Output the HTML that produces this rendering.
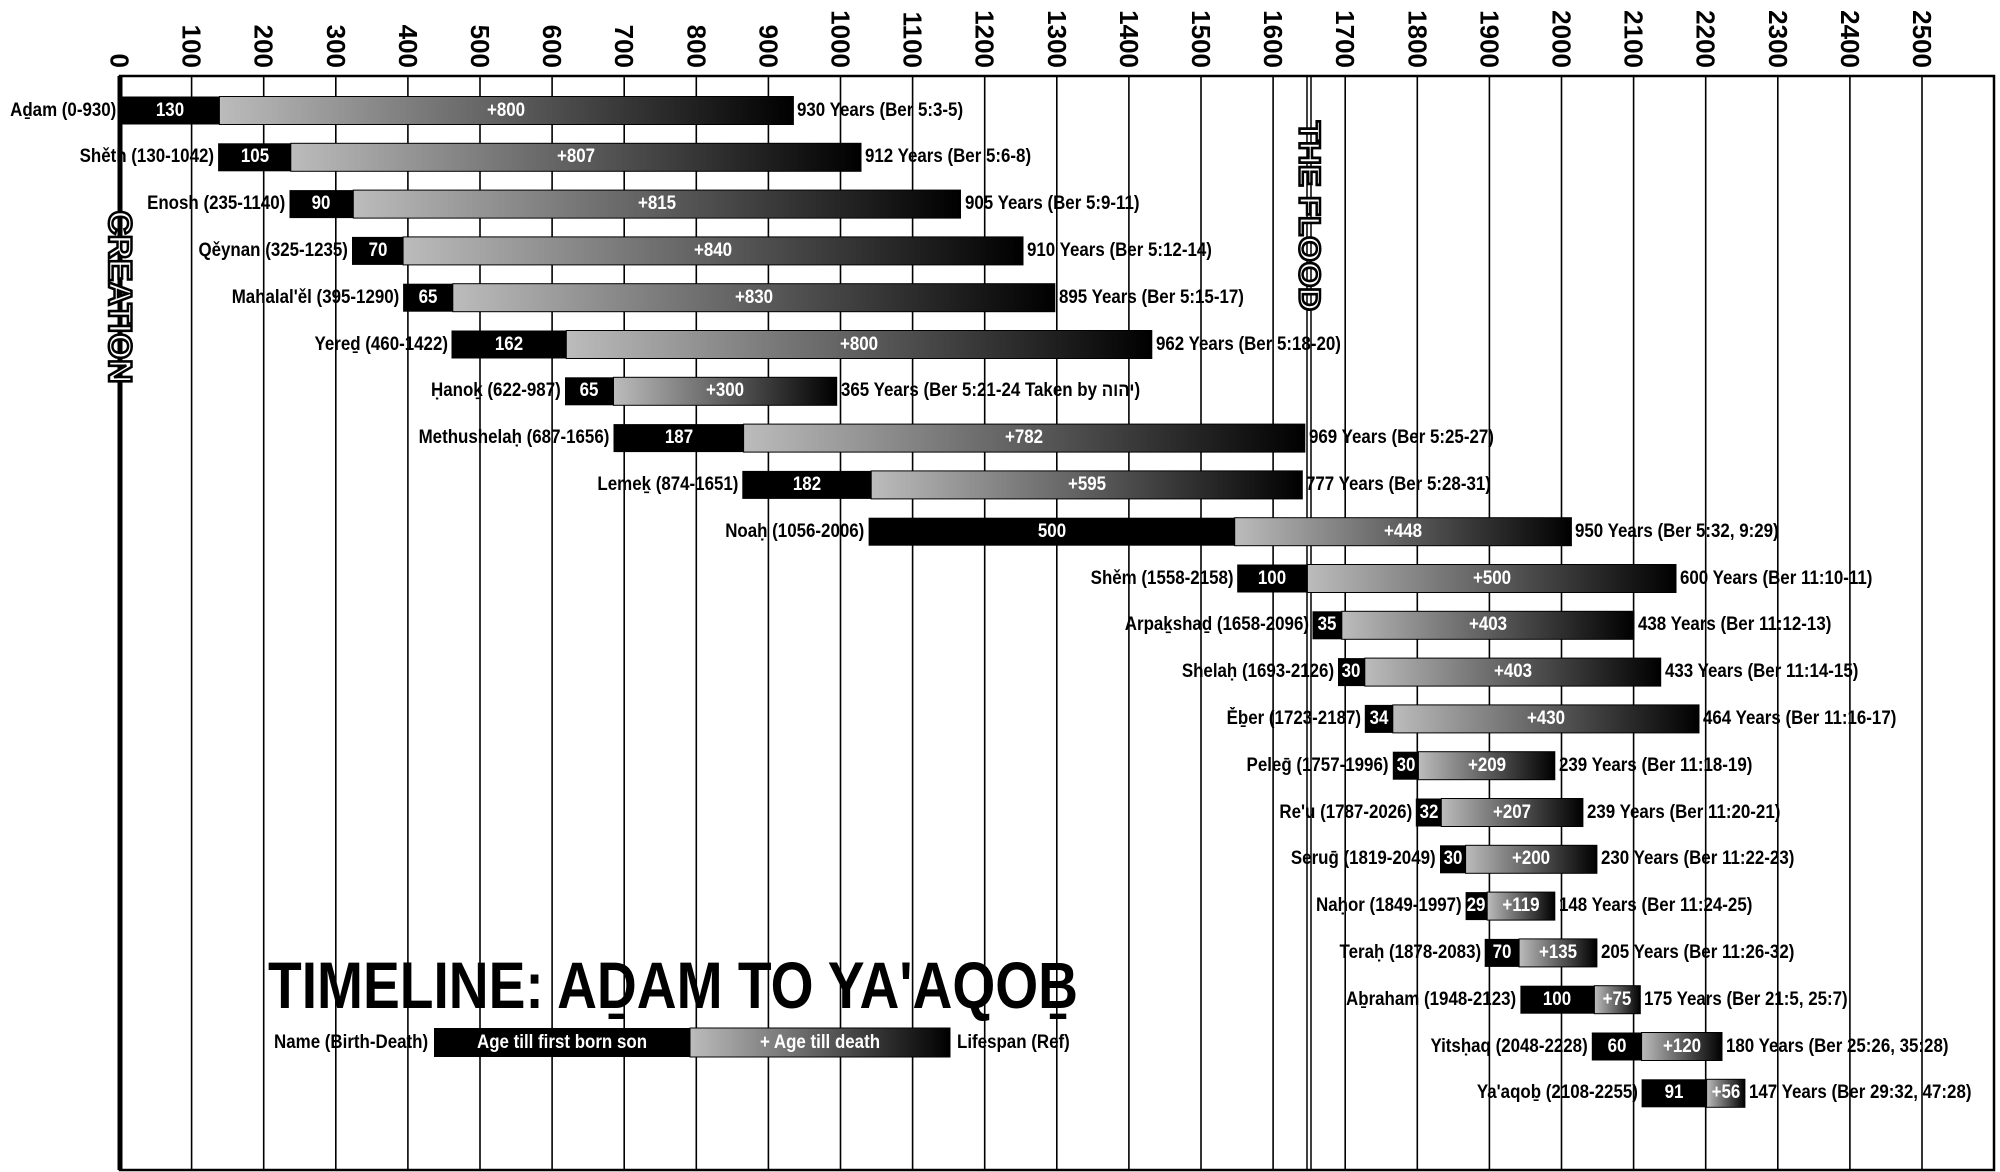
<!DOCTYPE html>
<html><head><meta charset="utf-8"><style>
html,body{margin:0;padding:0;background:#fff}
#c{position:relative;width:2000px;height:1172px;overflow:hidden;background:#fff;font-family:"Liberation Sans",sans-serif;font-weight:bold}
svg{position:absolute;left:0;top:0}
.l,.r,.m,.w{position:absolute;height:22px;line-height:22px;font-size:19px;white-space:nowrap;color:#000}
.l{transform:scaleX(.89);transform-origin:right center}
.r{transform:scaleX(.89);transform-origin:left center}
.m,.w{color:#fff;transform:translateX(-50%) scaleX(.89);transform-origin:center}
</style></head><body><div id="c">
<svg width="2000" height="1172" xmlns="http://www.w3.org/2000/svg">
<defs><linearGradient id="g" x1="0" x2="1" y1="0" y2="0"><stop offset="0" stop-color="#bcbcbc"/><stop offset="1" stop-color="#000"/></linearGradient></defs>
<g stroke="#000" stroke-width="1.6">
<line x1="191.6" y1="76" x2="191.6" y2="1170"/><line x1="263.7" y1="76" x2="263.7" y2="1170"/><line x1="335.8" y1="76" x2="335.8" y2="1170"/><line x1="407.9" y1="76" x2="407.9" y2="1170"/><line x1="480" y1="76" x2="480" y2="1170"/><line x1="552.1" y1="76" x2="552.1" y2="1170"/><line x1="624.2" y1="76" x2="624.2" y2="1170"/><line x1="696.3" y1="76" x2="696.3" y2="1170"/><line x1="768.4" y1="76" x2="768.4" y2="1170"/><line x1="840.5" y1="76" x2="840.5" y2="1170"/><line x1="912.6" y1="76" x2="912.6" y2="1170"/><line x1="984.7" y1="76" x2="984.7" y2="1170"/><line x1="1056.8" y1="76" x2="1056.8" y2="1170"/><line x1="1128.9" y1="76" x2="1128.9" y2="1170"/><line x1="1201" y1="76" x2="1201" y2="1170"/><line x1="1273.1" y1="76" x2="1273.1" y2="1170"/><line x1="1345.2" y1="76" x2="1345.2" y2="1170"/><line x1="1417.3" y1="76" x2="1417.3" y2="1170"/><line x1="1489.4" y1="76" x2="1489.4" y2="1170"/><line x1="1561.5" y1="76" x2="1561.5" y2="1170"/><line x1="1633.6" y1="76" x2="1633.6" y2="1170"/><line x1="1705.7" y1="76" x2="1705.7" y2="1170"/><line x1="1777.8" y1="76" x2="1777.8" y2="1170"/><line x1="1849.9" y1="76" x2="1849.9" y2="1170"/><line x1="1922" y1="76" x2="1922" y2="1170"/>
</g>
<rect x="120" y="76" width="1874" height="1094" fill="none" stroke="#000" stroke-width="2.5"/>
<line x1="120" y1="76" x2="120" y2="1170" stroke="#000" stroke-width="5"/>
<line x1="1307" y1="76" x2="1307" y2="1170" stroke="#000" stroke-width="1.5"/>
<line x1="1311" y1="76" x2="1311" y2="1170" stroke="#000" stroke-width="1.5"/>
<g font-family="Liberation Sans, sans-serif" font-weight="bold" font-size="26" text-anchor="end" dominant-baseline="central">
<text transform="translate(119.5,68) rotate(90)">0</text><text transform="translate(191.6,68) rotate(90)">100</text><text transform="translate(263.7,68) rotate(90)">200</text><text transform="translate(335.8,68) rotate(90)">300</text><text transform="translate(407.9,68) rotate(90)">400</text><text transform="translate(480,68) rotate(90)">500</text><text transform="translate(552.1,68) rotate(90)">600</text><text transform="translate(624.2,68) rotate(90)">700</text><text transform="translate(696.3,68) rotate(90)">800</text><text transform="translate(768.4,68) rotate(90)">900</text><text transform="translate(840.5,68) rotate(90)">1000</text><text transform="translate(912.6,68) rotate(90)">1100</text><text transform="translate(984.7,68) rotate(90)">1200</text><text transform="translate(1056.8,68) rotate(90)">1300</text><text transform="translate(1128.9,68) rotate(90)">1400</text><text transform="translate(1201,68) rotate(90)">1500</text><text transform="translate(1273.1,68) rotate(90)">1600</text><text transform="translate(1345.2,68) rotate(90)">1700</text><text transform="translate(1417.3,68) rotate(90)">1800</text><text transform="translate(1489.4,68) rotate(90)">1900</text><text transform="translate(1561.5,68) rotate(90)">2000</text><text transform="translate(1633.6,68) rotate(90)">2100</text><text transform="translate(1705.7,68) rotate(90)">2200</text><text transform="translate(1777.8,68) rotate(90)">2300</text><text transform="translate(1849.9,68) rotate(90)">2400</text><text transform="translate(1922,68) rotate(90)">2500</text>
</g>
<g font-family="Liberation Sans, sans-serif" font-weight="bold" fill="#fff" stroke="#000" stroke-width="2.5" dominant-baseline="central" text-anchor="middle">
<text transform="translate(120,297) rotate(90)" font-size="32" textLength="173" lengthAdjust="spacingAndGlyphs">CREATION</text>
<text transform="translate(1309,216) rotate(90)" font-size="30" textLength="190" lengthAdjust="spacingAndGlyphs">THE FLOOD</text>
</g>
<g>
<rect x="120" y="96.5" width="99.4" height="28"/><rect x="219.4" y="96.5" width="574" height="28" fill="url(#g)" stroke="#000"/>
<rect x="218.1" y="143.3" width="72.7" height="28"/><rect x="290.8" y="143.3" width="570.2" height="28" fill="url(#g)" stroke="#000"/>
<rect x="289.5" y="190.1" width="63.8" height="28"/><rect x="353.3" y="190.1" width="607.2" height="28" fill="url(#g)" stroke="#000"/>
<rect x="352" y="236.9" width="51.1" height="28"/><rect x="403.1" y="236.9" width="619.9" height="28" fill="url(#g)" stroke="#000"/>
<rect x="403.1" y="283.7" width="49.7" height="28"/><rect x="452.8" y="283.7" width="602" height="28" fill="url(#g)" stroke="#000"/>
<rect x="451.5" y="330.5" width="114.8" height="28"/><rect x="566.3" y="330.5" width="585.5" height="28" fill="url(#g)" stroke="#000"/>
<rect x="565" y="377.3" width="48.5" height="28"/><rect x="613.5" y="377.3" width="223.2" height="28" fill="url(#g)" stroke="#000"/>
<rect x="613.5" y="424.1" width="130.1" height="28"/><rect x="743.6" y="424.1" width="561.2" height="28" fill="url(#g)" stroke="#000"/>
<rect x="742.3" y="470.9" width="128.9" height="28"/><rect x="871.2" y="470.9" width="431.1" height="28" fill="url(#g)" stroke="#000"/>
<rect x="868.6" y="517.7" width="366.1" height="28"/><rect x="1234.7" y="517.7" width="336.7" height="28" fill="url(#g)" stroke="#000"/>
<rect x="1237.2" y="564.5" width="70.2" height="28"/><rect x="1307.4" y="564.5" width="368.6" height="28" fill="url(#g)" stroke="#000"/>
<rect x="1312.5" y="611.3" width="29.3" height="28"/><rect x="1341.8" y="611.3" width="292.2" height="28" fill="url(#g)" stroke="#000"/>
<rect x="1338" y="658.1" width="26.8" height="28"/><rect x="1364.8" y="658.1" width="295.9" height="28" fill="url(#g)" stroke="#000"/>
<rect x="1364.8" y="704.9" width="28" height="28"/><rect x="1392.8" y="704.9" width="306.2" height="28" fill="url(#g)" stroke="#000"/>
<rect x="1392.8" y="751.7" width="25.6" height="28"/><rect x="1418.4" y="751.7" width="136.4" height="28" fill="url(#g)" stroke="#000"/>
<rect x="1415.8" y="798.5" width="25.5" height="28"/><rect x="1441.3" y="798.5" width="141.6" height="28" fill="url(#g)" stroke="#000"/>
<rect x="1440" y="845.3" width="25.6" height="28"/><rect x="1465.6" y="845.3" width="131.3" height="28" fill="url(#g)" stroke="#000"/>
<rect x="1465.6" y="892.1" width="21.6" height="28"/><rect x="1487.2" y="892.1" width="67.6" height="28" fill="url(#g)" stroke="#000"/>
<rect x="1484.7" y="938.9" width="34.4" height="28"/><rect x="1519.1" y="938.9" width="77.8" height="28" fill="url(#g)" stroke="#000"/>
<rect x="1520.4" y="985.7" width="74" height="28"/><rect x="1594.4" y="985.7" width="45.9" height="28" fill="url(#g)" stroke="#000"/>
<rect x="1591.8" y="1032.5" width="49.8" height="28"/><rect x="1641.6" y="1032.5" width="80.4" height="28" fill="url(#g)" stroke="#000"/>
<rect x="1641.6" y="1079.3" width="65" height="28"/><rect x="1706.6" y="1079.3" width="38.3" height="28" fill="url(#g)" stroke="#000"/>
<rect x="434" y="1028" width="256" height="29"/><rect x="690" y="1028" width="260" height="29" fill="url(#g)" stroke="#000"/>
</g>
<text x="268" y="1008" font-family="Liberation Sans, sans-serif" font-weight="bold" font-size="66" textLength="810" lengthAdjust="spacingAndGlyphs">TIMELINE: AḎAM TO YA'AQOḆ</text>
</svg>

<div class="l" style="right:1884px;top:99.5px">Aḏam (0-930)</div><div class="m" style="left:169.7px;top:99.5px">130</div><div class="w" style="left:506.4px;top:99.5px">+800</div><div class="r" style="left:797.4px;top:99.5px">930 Years (Ber 5:3-5)</div>
<div class="l" style="right:1785.9px;top:146.3px">Shěth (130-1042)</div><div class="m" style="left:254.5px;top:146.3px">105</div><div class="w" style="left:575.9px;top:146.3px">+807</div><div class="r" style="left:865px;top:146.3px">912 Years (Ber 5:6-8)</div>
<div class="l" style="right:1714.5px;top:193.1px">Enosh (235-1140)</div><div class="m" style="left:321.4px;top:193.1px">90</div><div class="w" style="left:656.9px;top:193.1px">+815</div><div class="r" style="left:964.5px;top:193.1px">905 Years (Ber 5:9-11)</div>
<div class="l" style="right:1652px;top:239.9px">Qěynan (325-1235)</div><div class="m" style="left:377.5px;top:239.9px">70</div><div class="w" style="left:713px;top:239.9px">+840</div><div class="r" style="left:1027px;top:239.9px">910 Years (Ber 5:12-14)</div>
<div class="l" style="right:1600.9px;top:286.7px">Mahalal'ěl (395-1290)</div><div class="m" style="left:428px;top:286.7px">65</div><div class="w" style="left:753.8px;top:286.7px">+830</div><div class="r" style="left:1058.8px;top:286.7px">895 Years (Ber 5:15-17)</div>
<div class="l" style="right:1552.5px;top:333.5px">Yereḏ (460-1422)</div><div class="m" style="left:508.9px;top:333.5px">162</div><div class="w" style="left:859px;top:333.5px">+800</div><div class="r" style="left:1155.8px;top:333.5px">962 Years (Ber 5:18-20)</div>
<div class="l" style="right:1439px;top:380.3px">Ḥanoḵ (622-987)</div><div class="m" style="left:589.2px;top:380.3px">65</div><div class="w" style="left:725.1px;top:380.3px">+300</div><div class="r" style="left:840.7px;top:380.3px">365 Years (Ber 5:21-24 Taken by יהוה)</div>
<div class="l" style="right:1390.5px;top:427.1px">Methushelaḥ (687-1656)</div><div class="m" style="left:678.5px;top:427.1px">187</div><div class="w" style="left:1024.2px;top:427.1px">+782</div><div class="r" style="left:1308.8px;top:427.1px">969 Years (Ber 5:25-27)</div>
<div class="l" style="right:1261.7px;top:473.9px">Lemeḵ (874-1651)</div><div class="m" style="left:806.7px;top:473.9px">182</div><div class="w" style="left:1086.7px;top:473.9px">+595</div><div class="r" style="left:1306.3px;top:473.9px">777 Years (Ber 5:28-31)</div>
<div class="l" style="right:1135.4px;top:520.7px">Noaḥ (1056-2006)</div><div class="m" style="left:1051.6px;top:520.7px">500</div><div class="w" style="left:1403px;top:520.7px">+448</div><div class="r" style="left:1575.4px;top:520.7px">950 Years (Ber 5:32, 9:29)</div>
<div class="l" style="right:766.8px;top:567.5px">Shěm (1558-2158)</div><div class="m" style="left:1272.3px;top:567.5px">100</div><div class="w" style="left:1491.7px;top:567.5px">+500</div><div class="r" style="left:1680px;top:567.5px">600 Years (Ber 11:10-11)</div>
<div class="l" style="right:691.5px;top:614.3px">Arpaḵshaḏ (1658-2096)</div><div class="m" style="left:1327.2px;top:614.3px">35</div><div class="w" style="left:1487.9px;top:614.3px">+403</div><div class="r" style="left:1638px;top:614.3px">438 Years (Ber 11:12-13)</div>
<div class="l" style="right:666px;top:661.1px">Shelaḥ (1693-2126)</div><div class="m" style="left:1351.4px;top:661.1px">30</div><div class="w" style="left:1512.8px;top:661.1px">+403</div><div class="r" style="left:1664.7px;top:661.1px">433 Years (Ber 11:14-15)</div>
<div class="l" style="right:639.2px;top:707.9px">Ěḇer (1723-2187)</div><div class="m" style="left:1378.8px;top:707.9px">34</div><div class="w" style="left:1545.9px;top:707.9px">+430</div><div class="r" style="left:1703px;top:707.9px">464 Years (Ber 11:16-17)</div>
<div class="l" style="right:611.2px;top:754.7px">Peleḡ (1757-1996)</div><div class="m" style="left:1405.6px;top:754.7px">30</div><div class="w" style="left:1486.6px;top:754.7px">+209</div><div class="r" style="left:1558.8px;top:754.7px">239 Years (Ber 11:18-19)</div>
<div class="l" style="right:588.2px;top:801.5px">Re'u (1787-2026)</div><div class="m" style="left:1428.5px;top:801.5px">32</div><div class="w" style="left:1512.1px;top:801.5px">+207</div><div class="r" style="left:1586.9px;top:801.5px">239 Years (Ber 11:20-21)</div>
<div class="l" style="right:564px;top:848.3px">Seruḡ (1819-2049)</div><div class="m" style="left:1452.8px;top:848.3px">30</div><div class="w" style="left:1531.2px;top:848.3px">+200</div><div class="r" style="left:1600.9px;top:848.3px">230 Years (Ber 11:22-23)</div>
<div class="l" style="right:538.4px;top:895.1px">Naḥor (1849-1997)</div><div class="m" style="left:1476.4px;top:895.1px">29</div><div class="w" style="left:1521px;top:895.1px">+119</div><div class="r" style="left:1558.8px;top:895.1px">148 Years (Ber 11:24-25)</div>
<div class="l" style="right:519.3px;top:941.9px">Teraḥ (1878-2083)</div><div class="m" style="left:1501.9px;top:941.9px">70</div><div class="w" style="left:1558px;top:941.9px">+135</div><div class="r" style="left:1600.9px;top:941.9px">205 Years (Ber 11:26-32)</div>
<div class="l" style="right:483.6px;top:988.7px">Aḇraham (1948-2123)</div><div class="m" style="left:1557.4px;top:988.7px">100</div><div class="w" style="left:1617.4px;top:988.7px">+75</div><div class="r" style="left:1644.3px;top:988.7px">175 Years (Ber 21:5, 25:7)</div>
<div class="l" style="right:412.2px;top:1035.5px">Yitsḥaq (2048-2228)</div><div class="m" style="left:1616.7px;top:1035.5px">60</div><div class="w" style="left:1681.8px;top:1035.5px">+120</div><div class="r" style="left:1726px;top:1035.5px">180 Years (Ber 25:26, 35:28)</div>
<div class="l" style="right:362.4px;top:1082.3px">Ya'aqoḇ (2108-2255)</div><div class="m" style="left:1674.1px;top:1082.3px">91</div><div class="w" style="left:1725.8px;top:1082.3px">+56</div><div class="r" style="left:1748.9px;top:1082.3px">147 Years (Ber 29:32, 47:28)</div>
<div class="l" style="right:1572px;top:1031.5px">Name (Birth-Death)</div><div class="m" style="left:562px;top:1031.5px">Age till first born son</div><div class="w" style="left:820px;top:1031.5px">+ Age till death</div><div class="r" style="left:957px;top:1031.5px">Lifespan (Ref)</div>
</div></body></html>
